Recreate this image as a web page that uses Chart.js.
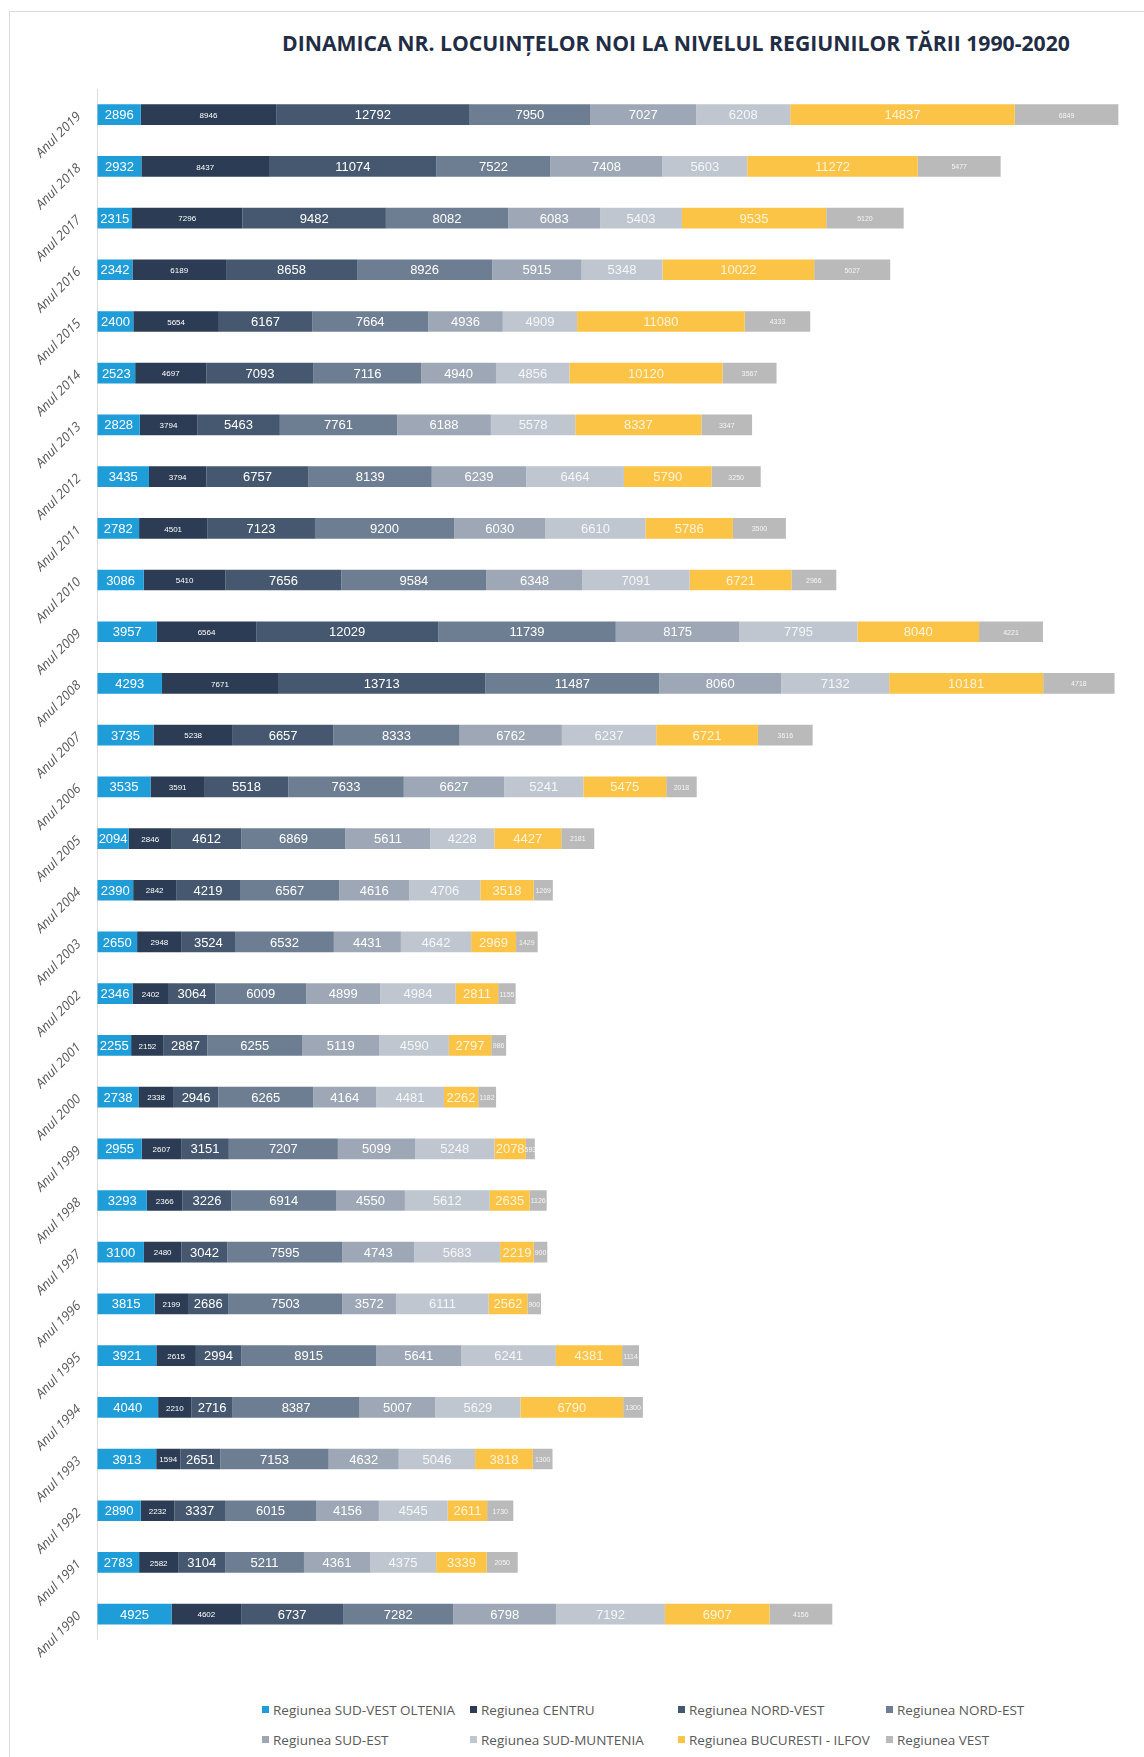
<!DOCTYPE html>
<html>
<head>
<meta charset="utf-8">
<title>Dinamica nr. locuințelor noi</title>
<script src="https://cdn.jsdelivr.net/npm/chart.js@4.4.1/dist/chart.umd.min.js"></script>
<style>
  html, body { margin: 0; padding: 0; background: #fff; overflow: hidden; }
  #page { position: relative; width: 1144px; height: 1757px; }
  #frame {
    position: absolute; left: 9px; top: 11px; width: 1200px; height: 1800px;
    border-left: 1px solid #d9d9d9; border-top: 1px solid #d9d9d9;
  }
  #title {
    position: absolute; left: 0; top: 28px; width: 1352px; text-align: center;
    font: bold 21.2px "Open Sans", sans-serif; color: #1f2d45; white-space: nowrap;
  }
  #chart { position: absolute; left: 10px; top: 63px; }
  #legend {
    position: absolute; left: 262px; top: 1701px;
    display: grid; grid-template-columns: repeat(4, 208px); row-gap: 11px;
    font: 13.5px "Open Sans", sans-serif; color: #595959;
  }
  #legend span.item { white-space: nowrap; line-height: 19px; }
  #legend i { display: inline-block; width: 7px; height: 7px; margin-right: 4px; vertical-align: 2px; }
</style>
</head>
<body>
<div id="page">
  <div id="frame"></div>
  <div id="title">DINAMICA NR. LOCUINȚELOR NOI LA NIVELUL REGIUNILOR TĂRII 1990-2020</div>
  <canvas id="chart" width="1134" height="1610"></canvas>
  <div id="legend"></div>
</div>
<script>
// categories, top to bottom
const years = ['Anul 2019', 'Anul 2018', 'Anul 2017', 'Anul 2016', 'Anul 2015', 'Anul 2014',
  'Anul 2013', 'Anul 2012', 'Anul 2011', 'Anul 2010', 'Anul 2009', 'Anul 2008', 'Anul 2007',
  'Anul 2006', 'Anul 2005', 'Anul 2004', 'Anul 2003', 'Anul 2002', 'Anul 2001', 'Anul 2000',
  'Anul 1999', 'Anul 1998', 'Anul 1997', 'Anul 1996', 'Anul 1995', 'Anul 1994', 'Anul 1993',
  'Anul 1992', 'Anul 1991', 'Anul 1990'];

const sudVestOltenia = [2896, 2932, 2315, 2342, 2400, 2523, 2828, 3435, 2782, 3086, 3957, 4293, 3735, 3535, 2094,
  2390, 2650, 2346, 2255, 2738, 2955, 3293, 3100, 3815, 3921, 4040, 3913, 2890, 2783, 4925];
const centru = [8946, 8437, 7296, 6189, 5654, 4697, 3794, 3794, 4501, 5410, 6564, 7671, 5238, 3591, 2846,
  2842, 2948, 2402, 2152, 2338, 2607, 2366, 2480, 2199, 2615, 2210, 1594, 2232, 2582, 4602];
const nordVest = [12792, 11074, 9482, 8658, 6167, 7093, 5463, 6757, 7123, 7656, 12029, 13713, 6657, 5518, 4612,
  4219, 3524, 3064, 2887, 2946, 3151, 3226, 3042, 2686, 2994, 2716, 2651, 3337, 3104, 6737];
const nordEst = [7950, 7522, 8082, 8926, 7664, 7116, 7761, 8139, 9200, 9584, 11739, 11487, 8333, 7633, 6869,
  6567, 6532, 6009, 6255, 6265, 7207, 6914, 7595, 7503, 8915, 8387, 7153, 6015, 5211, 7282];
const sudEst = [7027, 7408, 6083, 5915, 4936, 4940, 6188, 6239, 6030, 6348, 8175, 8060, 6762, 6627, 5611,
  4616, 4431, 4899, 5119, 4164, 5099, 4550, 4743, 3572, 5641, 5007, 4632, 4156, 4361, 6798];
const sudMuntenia = [6208, 5603, 5403, 5348, 4909, 4856, 5578, 6464, 6610, 7091, 7795, 7132, 6237, 5241, 4228,
  4706, 4642, 4984, 4590, 4481, 5248, 5612, 5683, 6111, 6241, 5629, 5046, 4545, 4375, 7192];
const bucurestiIlfov = [14837, 11272, 9535, 10022, 11080, 10120, 8337, 5790, 5786, 6721, 8040, 10181, 6721, 5475, 4427,
  3518, 2969, 2811, 2797, 2262, 2078, 2635, 2219, 2562, 4381, 6790, 3818, 2611, 3339, 6907];
const vest = [6849, 5477, 5120, 5027, 4333, 3567, 3347, 3250, 3500, 2966, 4221, 4718, 3616, 2018, 2181,
  1269, 1429, 1155, 986, 1182, 593, 1126, 900, 900, 1114, 1300, 1300, 1730, 2050, 4156];

const seriesNames = ['Regiunea SUD-VEST OLTENIA', 'Regiunea CENTRU', 'Regiunea NORD-VEST', 'Regiunea NORD-EST',
  'Regiunea SUD-EST', 'Regiunea SUD-MUNTENIA', 'Regiunea BUCURESTI - ILFOV', 'Regiunea VEST'];
const seriesValues = [sudVestOltenia, centru, nordVest, nordEst, sudEst, sudMuntenia, bucurestiIlfov, vest];
const seriesColours = ['#1f9dd9', '#2b3c54', '#46586f', '#6e7e92', '#9da7b5', '#bfc6cf', '#fbc446', '#bababa'];

// font and colour of the value written inside each segment, per series
const labelFonts = ['13px "Liberation Sans", sans-serif', '8px "Liberation Sans", sans-serif',
  '13px "Liberation Sans", sans-serif', '13px "Liberation Sans", sans-serif',
  '13px "Liberation Sans", sans-serif', '13px "Liberation Sans", sans-serif',
  '13px "Liberation Sans", sans-serif', '7px "Liberation Sans", sans-serif'];
const labelColours = ['#ffffff', '#ffffff', '#ffffff', '#ffffff', '#ffffff', 'rgba(255,255,255,0.85)',
  'rgba(255,255,255,0.8)', 'rgba(255,255,255,0.85)'];

// write the value in the middle of each bar segment
const valueLabels = {
  id: 'valueLabels',
  afterDatasetsDraw(chart) {
    const ctx = chart.ctx;
    ctx.save();
    ctx.textAlign = 'center';
    ctx.textBaseline = 'middle';
    chart.data.datasets.forEach((ds, i) => {
      const meta = chart.getDatasetMeta(i);
      if (meta.hidden) return;
      ctx.font = labelFonts[i];
      ctx.fillStyle = labelColours[i];
      meta.data.forEach((bar, j) => {
        ctx.fillText(ds.data[j], (bar.x + bar.base) / 2, bar.y + 1);
      });
    });
    ctx.restore();
  }
};

const datasets = seriesNames.map((name, i) => ({
  label: name,
  data: seriesValues[i],
  backgroundColor: seriesColours[i],
  borderWidth: 0,
  barPercentage: 0.5,
  categoryPercentage: 0.8
}));

new Chart(document.getElementById('chart'), {
  type: 'bar',
  data: { labels: years, datasets: datasets },
  options: {
    indexAxis: 'y',
    responsive: false,
    animation: false,
    layout: { padding: { top: 14, bottom: 33, left: 0, right: 0 } },
    plugins: {
      legend: { display: false },
      title: { display: false },
      tooltip: { enabled: false }
    },
    scales: {
      x: {
        stacked: true,
        min: 0,
        max: 69200,
        ticks: { display: false, stepSize: 10000 },
        border: { display: false },
        grid: {
          drawTicks: false,
          color: (c) => (c.tick && c.tick.value % 10000 === 0 ? '#dcdcdc' : 'transparent')
        }
      },
      y: {
        stacked: true,
        afterFit: (scale) => { scale.width = 87; },
        border: { display: false },
        grid: { display: false, drawTicks: false },
        ticks: {
          minRotation: 45,
          maxRotation: 45,
          padding: 18,
          color: '#595959',
          font: { family: '"Open Sans", sans-serif', size: 13, style: 'italic' }
        }
      }
    }
  },
  plugins: [valueLabels]
});

// legend laid out on a 4 column grid, as in the original
const legend = document.getElementById('legend');
seriesNames.forEach((name, i) => {
  const item = document.createElement('span');
  item.className = 'item';
  const mark = document.createElement('i');
  mark.style.background = seriesColours[i];
  item.appendChild(mark);
  item.appendChild(document.createTextNode(name));
  legend.appendChild(item);
});
</script>
</body>
</html>
